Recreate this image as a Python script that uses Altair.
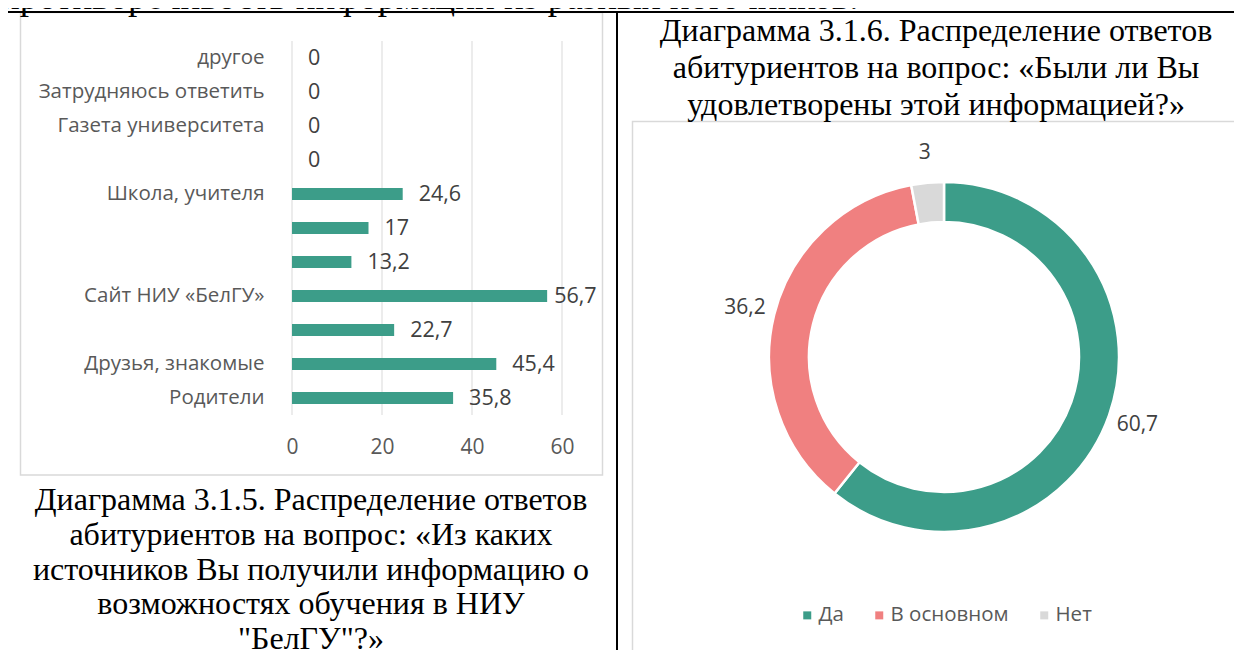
import altair as alt
import pandas as pd

# ---- data ----
sources = ["другое", "Затрудняюсь ответить", "Газета университета", " ",
           "Школа, учителя", "  ", "   ", "Сайт НИУ «БелГУ»", "    ",
           "Друзья, знакомые", "Родители"]
source_values = [0, 0, 0, 0, 24.6, 17, 13.2, 56.7, 22.7, 45.4, 35.8]
x_ticks = [0, 20, 40, 60]

answers = ["Да", "В основном", "Нет"]
answer_values = [60.7, 36.2, 3]
answer_colors = ["#3c9d89", "#f08080", "#d9d9d9"]

caption_left = ["Диаграмма 3.1.5. Распределение ответов",
                "абитуриентов на вопрос: «Из каких",
                "источников Вы получили информацию о",
                "возможностях обучения в НИУ",
                "\"БелГУ\"?»"]
caption_right = ["Диаграмма 3.1.6. Распределение ответов",
                 "абитуриентов на вопрос: «Были ли Вы",
                 "удовлетворены этой информацией?»"]
page_text = "противоречивость информации из разных источников."

bars_df = pd.DataFrame({"source": sources, "value": source_values})
ticks_df = pd.DataFrame({"tick": x_ticks})
donut_df = pd.DataFrame({"answer": answers, "share": answer_values,
                         "idx": list(range(len(answers)))})
dummy = pd.DataFrame({"d": [0]})

SANS = "Open Sans"
SERIF = "Liberation Serif"
TEAL = answer_colors[0]

x_scale = alt.Scale(domain=[0, 60], range=[284, 554], nice=False, zero=True)
y_scale = alt.Scale(range=[33, 407], paddingInner=0.65, paddingOuter=0.325)

x_axis = alt.Axis(orient="bottom", offset=-235, values=x_ticks, domain=False,
                  ticks=False, grid=False, labelPadding=32, labelBaseline="middle",
                  labelFlush=False, labelAlign="center",
                  labelFont=SANS, labelFontSize=21, labelColor="#595959", title=None)
y_axis = alt.Axis(orient="left", offset=-284, domain=False, ticks=False, grid=False,
                  labelPadding=28, labelFont=SANS, labelFontSize=20.5,
                  labelColor="#595959", labelLimit=400, title=None)

base = alt.Chart(bars_df).transform_calculate(
    label="replace(toString(datum.value), '.', ',')")

grid = alt.Chart(ticks_df).mark_rule(color="#d9d9d9", strokeWidth=1).encode(
    x=alt.X("tick:Q", scale=x_scale, title=None),
    y=alt.value(33), y2=alt.value(407))

bars = base.mark_bar(color=TEAL).encode(
    x=alt.X("value:Q", scale=x_scale, axis=x_axis, title=None),
    y=alt.Y("source:N", sort=sources, scale=y_scale, axis=y_axis, title=None))

lab_style = dict(align="left", baseline="middle", font=SANS, fontSize=21.5,
                 color="#404040", dy=1)
labels_lo = base.transform_filter("datum.value < 50").mark_text(dx=16, **lab_style).encode(
    x=alt.X("value:Q", scale=x_scale, title=None),
    y=alt.Y("source:N", sort=sources, scale=y_scale, title=None),
    text="label:N")
labels_hi = base.transform_filter("datum.value >= 50").mark_text(dx=7, **lab_style).encode(
    x=alt.X("value:Q", scale=x_scale, title=None),
    y=alt.Y("source:N", sort=sources, scale=y_scale, title=None),
    text="label:N")

# ---- donut ----
dbase = alt.Chart(donut_df).transform_calculate(
    label="replace(toString(datum.share), '.', ',')")
arc = dbase.mark_arc(innerRadius=135, outerRadius=175, stroke="white",
                     strokeWidth=2.5).encode(
    theta=alt.Theta("share:Q", stack=True),
    order=alt.Order("idx:Q", sort="ascending"),
    color=alt.Color("answer:N", sort=answers,
                    scale=alt.Scale(domain=answers, range=answer_colors),
                    legend=alt.Legend(orient="none", legendX=789, legendY=597,
                                      direction="horizontal", title=None,
                                      symbolType="square", symbolSize=64,
                                      symbolStrokeWidth=0, labelFont=SANS,
                                      labelFontSize=20.5, labelColor="#595959",
                                      labelOffset=1, columnPadding=25, padding=0)),
    x=alt.value(936), y=alt.value(349))
arc_labels = dbase.mark_text(radius=205, font=SANS, fontSize=21, color="#404040",
                             align="center", baseline="middle").encode(
    theta=alt.Theta("share:Q", stack=True),
    order=alt.Order("idx:Q", sort="ascending"),
    text="label:N",
    x=alt.value(936), y=alt.value(349))

# ---- page decorations ----
def rule(x, x2, y, y2, color="black", w=2):
    return alt.Chart(dummy).mark_rule(color=color, strokeWidth=w).encode(
        x=alt.value(x), x2=alt.value(x2), y=alt.value(y), y2=alt.value(y2))

def frame(x, x2, y, y2):
    return alt.Chart(dummy).mark_rect(fill="transparent", stroke="#d9d9d9",
                                      strokeWidth=1.5).encode(
        x=alt.value(x), x2=alt.value(x2), y=alt.value(y), y2=alt.value(y2))

top_text = alt.Chart(dummy).mark_text(font=SERIF, fontSize=37, color="black",
                                      align="left", baseline="alphabetic").encode(
    x=alt.value(-8), y=alt.value(1), text=alt.value(page_text))

cap_l = alt.Chart(dummy).mark_text(font=SERIF, fontSize=32, color="black",
                                   align="center", baseline="alphabetic",
                                   lineHeight=34.8).encode(
    x=alt.value(303), y=alt.value(502), text=alt.value(caption_left))
cap_r = alt.Chart(dummy).mark_text(font=SERIF, fontSize=32, color="black",
                                   align="center", baseline="alphabetic",
                                   lineHeight=37).encode(
    x=alt.value(928), y=alt.value(33), text=alt.value(caption_right))

chart = alt.layer(
    frame(12.5, 594.5, 4.5, 467),
    frame(624.5, 1240, 113.5, 644.5),
    rule(-2, 1240, 4, 4),
    rule(-2, -2, 4, 660),
    rule(609, 609, 4, 660),
    top_text,
    grid, bars, labels_lo, labels_hi,
    arc, arc_labels,
    cap_l, cap_r,
).properties(
    width=1226, height=642, padding=0,
    autosize=alt.AutoSizeParams(type="none"),
).configure_view(stroke="transparent")

chart.save("out.html", embed_options={"renderer": "svg", "actions": False})
